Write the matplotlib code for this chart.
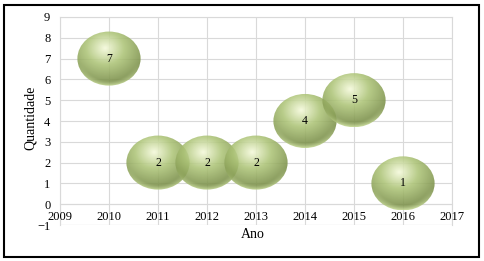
import numpy as np
import matplotlib
matplotlib.use("Agg")
from matplotlib import pyplot as plt
from matplotlib.patches import Ellipse, Rectangle

# data
anos = [2010, 2011, 2012, 2013, 2014, 2015, 2016]
quantidade = [7, 2, 2, 2, 4, 5, 1]
xticks = list(range(2009, 2018))
yticks = list(range(-1, 10))

# bubble size in data units (all equal)
bw = 1.29
bh = 2.6

plt.rcParams['font.family'] = ['Liberation Serif', 'DejaVu Serif']

def sphere_image(n=150):
    u = np.linspace(-1, 1, n)
    v = np.linspace(1, -1, n)
    U, V = np.meshgrid(u, v)
    r = np.sqrt(U**2 + V**2)
    d = np.sqrt((U + 0.12)**2 + (V - 0.38)**2)
    light = np.array([0.96, 0.98, 0.86])
    mid = np.array([0.68, 0.77, 0.47])
    dark = np.array([0.43, 0.51, 0.24])
    t1 = np.clip(d / 0.6, 0, 1)[..., None]
    t2 = np.clip((d - 0.6) / 0.8, 0, 1)[..., None]
    col = light * (1 - t1) + mid * t1
    col = col * (1 - t2) + dark * t2
    # lighter rim at the bottom
    rim = np.clip((r - 0.82) / 0.18, 0, 1) * np.clip(-V - 0.2, 0, 1) * 1.2
    rim = np.clip(rim, 0, 1)
    rimc = np.array([0.78, 0.86, 0.58])
    col = col * (1 - rim[..., None]) + rimc * rim[..., None]
    return np.clip(col, 0, 1)

fig = plt.figure(figsize=(4.85, 2.61), dpi=100)
ax = fig.add_axes([60/485, 1 - 225/261, 392/485, 208/261])

img = sphere_image()
for i, (x, y) in enumerate(zip(anos, quantidade)):
    e = Ellipse((x, y), bw, bh, facecolor='none', edgecolor='none', zorder=3 + i)
    ax.add_patch(e)
    im = ax.imshow(img, extent=[x - bw/2, x + bw/2, y - bh/2, y + bh/2],
                   aspect='auto', alpha=0.88, zorder=3 + i, interpolation='bilinear')
    im.set_clip_path(e)
    ax.text(x, y, str(y), ha='center', va='center', fontsize=8.5, color='black', zorder=20)

ax.set_xlim(2009, 2017)
ax.set_ylim(-1, 9)
ax.set_xticks(xticks)
ax.set_yticks(yticks)
ax.grid(True, axis='y', color='#d9d9d9', linewidth=0.8)
for xt in xticks:
    ax.axvline(xt, color='#d9d9d9', linewidth=0.8, zorder=0)
ax.set_axisbelow(True)
ax.tick_params(axis='y', length=0, labelsize=9, pad=7)
ax.tick_params(axis='x', length=0, labelsize=9, pad=5)
ax.xaxis.set_zorder(30)
ax.spines['bottom'].set_position(('data', 0))
for s in ax.spines.values():
    s.set_color('#d9d9d9')
    s.set_linewidth(0.8)
ax.spines['bottom'].set_zorder(0)
ax.axhline(-1, color='#d9d9d9', linewidth=0.8, zorder=0)

fig.text(30/485, 1 - 118/261, 'Quantidade', rotation=90, ha='center', va='center', fontsize=10)
fig.text(253/485, 1 - 235/261, 'Ano', ha='center', va='center', fontsize=10)

fig.patches.append(Rectangle((4/485, 4/261), 475/485, 252/261, transform=fig.transFigure,
                             fill=False, edgecolor='black', linewidth=1.5))

fig.savefig('out.png', dpi=100)
